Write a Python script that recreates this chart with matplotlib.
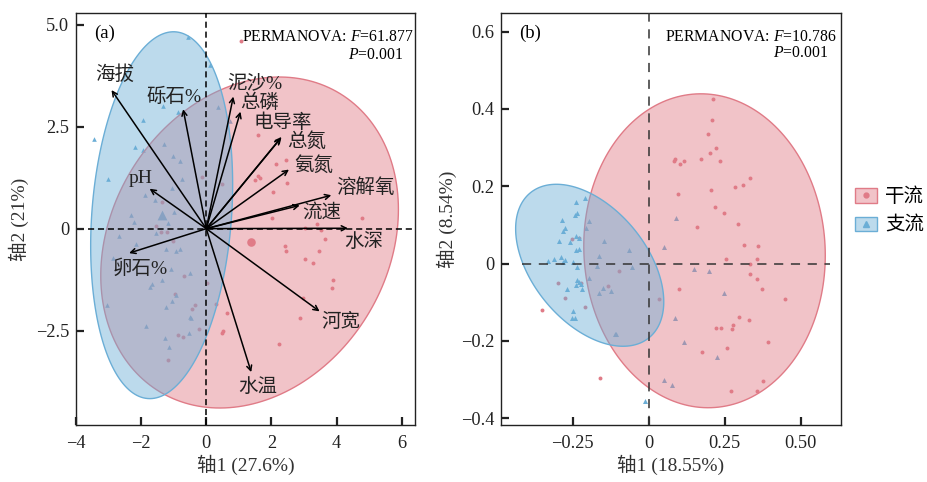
import numpy as np
import matplotlib
matplotlib.use("Agg")
import matplotlib.pyplot as plt
from matplotlib.patches import Patch, Polygon
from matplotlib.lines import Line2D
from matplotlib.colors import to_rgba

plt.rcParams['font.family'] = ['Liberation Serif', 'Noto Sans CJK SC']
plt.rcParams['mathtext.fontset'] = 'custom'
plt.rcParams['mathtext.rm'] = 'Liberation Serif'
plt.rcParams['mathtext.it'] = 'Liberation Serif:italic'
plt.rcParams['axes.unicode_minus'] = True

# --- data ---
groups = ['干流', '支流']

# panel (a): RDA site scores
a_main_x = [1.06, -0.13, 0.48, -1.35, 1.60, 2.15, 2.44, 2.49, 2.05, 1.60, 1.66, 1.50,
            2.01, 3.02, 3.53, 4.79, 3.65, 3.40, -1.53, -1.39, -1.21, -1.02, -0.67, -0.95,
            -0.34, -0.45, -0.21, -0.87, -0.72, -1.16, 0.29, 0.64, 0.48, 0.51, 0.02, 2.43,
            2.46, 3.46, 3.02, 3.28, 3.90, 3.87, 2.98, 2.88, 2.23]
a_main_y = [4.61, 1.27, 1.10, 0.65, 2.30, 1.58, 1.68, 1.13, 0.89, 1.29, 1.24, 1.19,
            0.25, 0.02, -0.03, 0.25, -0.26, 0.12, 0.06, -0.08, -0.09, -0.31, -1.17, -1.60,
            -1.88, -1.96, -2.46, -2.61, -2.65, -3.22, -1.85, -2.08, -2.56, -2.51, -1.33, -0.42,
            -0.55, -0.54, -0.74, -0.84, -1.27, -1.45, -1.70, -2.19, -2.84]
a_trib_x = [-0.56, -3.46, -3.02, -1.94, -1.33, -0.86, -2.20, -1.95, -1.31, -1.02, -0.82,
            -0.74, -1.04, -1.89, -1.57, -2.30, -1.00, 0.11, 0.74, 0.37, -2.23, -1.53, -1.17,
            -2.68, -2.17, -1.25, -0.92, -0.80, -2.86, -1.08, -0.51, -1.36, -1.72, -1.66,
            -0.92, -1.05, -3.05, -1.23, -0.48, -0.51, -1.86, -0.54, -1.27, -1.14]
a_trib_y = [4.70, 2.19, 1.23, 2.66, 3.01, 2.87, 2.00, 1.94, 2.08, 1.77, 1.67,
            1.23, 1.00, 0.83, 0.71, 0.33, 0.40, 4.02, 2.63, 2.98, 0.16, -0.11, 0.15,
            -0.19, -0.37, -0.50, -0.55, -0.51, -0.73, -1.00, -1.10, -1.27, -1.43, -1.36,
            -1.62, -1.78, -1.88, -1.92, -2.19, -2.16, -2.38, -2.57, -2.68, -2.91]
a_centroid_x = [1.38, -1.35]
a_centroid_y = [-0.33, 0.33]

# panel (a): environmental arrows
env_names = ['海拔', '砾石%', '泥沙%', '总磷', '电导率', '总氮', '氨氮', '溶解氧',
             '流速', '水深', '河宽', '水温', '卵石%', 'pH']
env_x = [-2.91, -0.71, 0.83, 1.05, 2.29, 2.31, 2.54, 3.84, 2.87, 4.35, 3.48, 1.38, -2.37, -1.74]
env_y = [3.40, 2.93, 3.24, 2.87, 2.22, 2.25, 1.45, 0.82, 0.57, 0.01, -2.03, -3.52, -0.60, 0.98]

# panel (b): NMDS site scores
b_main_x = [0.212, 0.210, 0.195, 0.223, 0.202, 0.172, 0.234, 0.086, 0.083, 0.102, 0.117,
            0.334, 0.310, 0.285, 0.205, 0.096, 0.219, 0.248, 0.295, 0.158, 0.314, 0.360,
            0.256, 0.355, 0.333, 0.333, 0.356, 0.374, 0.100, 0.449, 0.297, 0.331, 0.277,
            0.222, 0.239, 0.274, 0.393, 0.259, 0.175, 0.375, 0.271, 0.355, -0.252, -0.230,
            -0.098, -0.299, -0.221, -0.133, -0.276, -0.210, -0.350, 0.033, -0.161]
b_main_y = [0.426, 0.370, 0.335, 0.300, 0.285, 0.270, 0.265, 0.270, 0.266, 0.258, 0.266,
            0.220, 0.202, 0.198, 0.190, 0.180, 0.146, 0.131, 0.102, 0.095, 0.048, 0.046,
            0.011, 0.012, -0.001, -0.027, -0.041, -0.066, -0.067, -0.092, -0.139, -0.147, -0.160,
            -0.166, -0.167, -0.170, -0.204, -0.219, -0.228, -0.305, -0.330, -0.329, 0.063, 0.066,
            -0.019, -0.051, -0.050, -0.059, -0.089, -0.112, -0.119, -0.092, -0.296]
b_trib_x = [-0.239, -0.210, -0.234, -0.241, -0.283, -0.275, -0.282, -0.197, -0.205, -0.238,
            -0.228, -0.293, -0.257, -0.240, -0.229, -0.147, -0.065, -0.163, 0.050, -0.330,
            -0.312, -0.289, -0.274, -0.280, -0.250, -0.234, -0.171, -0.056, -0.196, -0.234,
            -0.229, -0.238, -0.221, -0.267, -0.219, -0.164, -0.151, -0.125, -0.248, -0.253,
            -0.241, -0.111, -0.106, -0.012, 0.091, 0.149, 0.200, 0.249, 0.088, 0.117, 0.226,
            0.050, 0.077]
b_trib_y = [0.158, 0.170, 0.130, 0.125, 0.112, 0.093, 0.084, 0.109, 0.091, 0.071,
            0.066, 0.058, 0.056, 0.034, 0.037, 0.058, 0.036, 0.020, 0.042, 0.006,
            0.011, 0.016, 0.009, 0.004, 0.004, -0.009, -0.007, -0.010, -0.038, -0.042,
            -0.048, -0.056, -0.052, -0.065, -0.066, -0.075, -0.064, -0.071, -0.123, -0.142,
            -0.142, -0.181, -0.182, -0.355, 0.118, -0.015, -0.019, -0.075, -0.141, -0.204, -0.242,
            -0.301, -0.313]

# ellipse geometry: centre, half extents (x, y), correlation
a_ell_main = dict(cx=1.33, cy=-0.34, sx=4.57, sy=4.06, rho=0.20)
a_ell_trib = dict(cx=-1.37, cy=0.33, sx=2.18, sy=4.50, rho=0.167)
b_ell_main = dict(cx=0.184, cy=0.033, sx=0.397, sy=0.406, rho=-0.03)
b_ell_trib = dict(cx=-0.1935, cy=-0.0045, sx=0.2435, sy=0.2095, rho=-0.45)

RED = '#E07B87'
BLUE = '#6BAED6'
FILL_ALPHA = 0.45


def ellipse_points(e, n=200):
    t = np.linspace(0, 2 * np.pi, n)
    cov = np.array([[e['sx'] ** 2, e['rho'] * e['sx'] * e['sy']],
                    [e['rho'] * e['sx'] * e['sy'], e['sy'] ** 2]])
    L = np.linalg.cholesky(cov)
    pts = L @ np.vstack([np.cos(t), np.sin(t)])
    return np.column_stack([pts[0] + e['cx'], pts[1] + e['cy']])


def draw_ellipse(ax, e, color):
    ax.add_patch(Polygon(ellipse_points(e), closed=True, facecolor=to_rgba(color, FILL_ALPHA),
                         edgecolor=color, lw=1.0, zorder=3))


def style_axis(ax):
    for s in ax.spines.values():
        s.set_linewidth(1.0)
        s.set_color('#222222')
    ax.tick_params(direction='in', length=6, width=1.6, labelsize=13.2, colors='#222222')
    ax.tick_params(axis='x', pad=7)
    ax.tick_params(axis='y', pad=5)


fig = plt.figure(figsize=(9.27, 4.82), dpi=100)
ax1 = fig.add_axes([0.082, 0.118, 0.3657, 0.855])
ax2 = fig.add_axes([0.5405, 0.118, 0.3665, 0.855])

# ---------------- panel (a) ----------------
ax1.set_xlim(-3.99, 6.41)
ax1.set_ylim(-4.82, 5.29)
ax1.scatter(a_main_x, a_main_y, s=8, marker='o', color=RED, lw=0, zorder=2)
ax1.scatter(a_trib_x, a_trib_y, s=11, marker='^', color=BLUE, lw=0, zorder=2)
ax1.scatter(a_centroid_x[:1], a_centroid_y[:1], s=38, marker='o', color=RED, lw=0, zorder=2)
ax1.scatter(a_centroid_x[1:], a_centroid_y[1:], s=50, marker='^', color=BLUE, lw=0, zorder=2)
draw_ellipse(ax1, dict(a_ell_main, cx=a_centroid_x[0] - 0.05, cy=a_centroid_y[0] - 0.01), RED)
draw_ellipse(ax1, dict(a_ell_trib, cx=a_centroid_x[1] - 0.02, cy=a_centroid_y[1]), BLUE)

ax1.plot([-3.63, 6.41], [0, 0], ls=(0, (4, 2.5)), color='black', lw=1.1, zorder=4)
ax1.axvline(0, ls=(0, (4, 2.5)), color='black', lw=1.1, zorder=4)

label_pos = {
    '海拔': (-2.82, 3.77), '砾石%': (-0.99, 3.23), '泥沙%': (1.50, 3.56), '总磷': (1.63, 3.08),
    '电导率': (2.35, 2.61), '总氮': (3.09, 2.14), '氨氮': (3.31, 1.54), '溶解氧': (4.89, 1.00),
    '流速': (3.54, 0.38), '水深': (4.82, -0.33), '河宽': (4.14, -2.29), '水温': (1.58, -3.88),
    '卵石%': (-2.02, -0.97), 'pH': (-2.02, 1.24),
}
for name, ex, ey in zip(env_names, env_x, env_y):
    ax1.annotate('', xy=(ex, ey), xytext=(0, 0),
                 arrowprops=dict(arrowstyle='->', lw=1.1, color='black',
                                 shrinkA=0, shrinkB=0, mutation_scale=9), zorder=5)
    lx, ly = label_pos[name]
    ax1.text(lx, ly, name, ha='center', va='center', fontsize=14, color='#222222', zorder=6)

ax1.set_xticks([-4, -2, 0, 2, 4, 6])
ax1.set_yticks([-2.5, 0, 2.5, 5.0])
ax1.set_yticklabels(['\u22122.5', '0', '2.5', '5.0'])
ax1.text(0.053, 0.950, '(a)', transform=ax1.transAxes, fontsize=13.5, ha='left', va='center')
ax1.text(0.994, 0.942, 'PERMANOVA: $F$=61.877', transform=ax1.transAxes, fontsize=11.3,
         ha='right', va='center')
ax1.text(0.964, 0.898, '$P$=0.001', transform=ax1.transAxes, fontsize=11.3, ha='right', va='center')
ax1.set_xlabel('轴1 (27.6%)', fontsize=14, labelpad=2, color='#333333')
ax1.set_ylabel('轴2 (21%)', fontsize=14, labelpad=5, color='#333333')
style_axis(ax1)

# ---------------- panel (b) ----------------
ax2.set_xlim(-0.485, 0.632)
ax2.set_ylim(-0.418, 0.648)
ax2.scatter(b_main_x, b_main_y, s=8, marker='o', color=RED, lw=0, zorder=2)
ax2.scatter(b_trib_x, b_trib_y, s=13, marker='^', color=BLUE, lw=0, zorder=2)
draw_ellipse(ax2, b_ell_main, RED)
draw_ellipse(ax2, b_ell_trib, BLUE)
ax2.plot([-0.416, 0.598], [0, 0], ls=(0, (6, 5)), color='#333333', lw=1.1, zorder=4)
ax2.axvline(0, ls=(0, (6, 5)), color='#333333', lw=1.1, zorder=4)

ax2.set_xticks([-0.25, 0, 0.25, 0.5])
ax2.set_xticklabels(['\u22120.25', '0', '0.25', '0.50'])
ax2.set_yticks([-0.4, -0.2, 0, 0.2, 0.4, 0.6])
ax2.set_yticklabels(['\u22120.4', '\u22120.2', '0', '0.2', '0.4', '0.6'])
ax2.text(0.053, 0.950, '(b)', transform=ax2.transAxes, fontsize=13.5, ha='left', va='center')
ax2.text(0.988, 0.942, 'PERMANOVA: $F$=10.786', transform=ax2.transAxes, fontsize=11.3,
         ha='right', va='center')
ax2.text(0.962, 0.903, '$P$=0.001', transform=ax2.transAxes, fontsize=11.3, ha='right', va='center')
ax2.set_xlabel('轴1 (18.55%)', fontsize=14, labelpad=2, color='#333333')
ax2.set_ylabel('轴2 (8.54%)', fontsize=14, labelpad=3, color='#333333')
style_axis(ax2)

# ---------------- legend ----------------
handles = [
    (Patch(facecolor=to_rgba(RED, FILL_ALPHA), edgecolor=RED, lw=1.0),
     Line2D([], [], ls='', marker='o', markersize=3.5, color=RED)),
    (Patch(facecolor=to_rgba(BLUE, FILL_ALPHA), edgecolor=BLUE, lw=1.0),
     Line2D([], [], ls='', marker='^', markersize=4.5, color=BLUE)),
]
fig.legend(handles, groups, loc='center left', bbox_to_anchor=(855 / 927, 1 - 211 / 482),
           frameon=False, fontsize=14, handlelength=1.15, handleheight=0.8,
           handletextpad=0.4, labelspacing=0.55, borderpad=0, borderaxespad=0)

fig.savefig('out.png', dpi=100)
